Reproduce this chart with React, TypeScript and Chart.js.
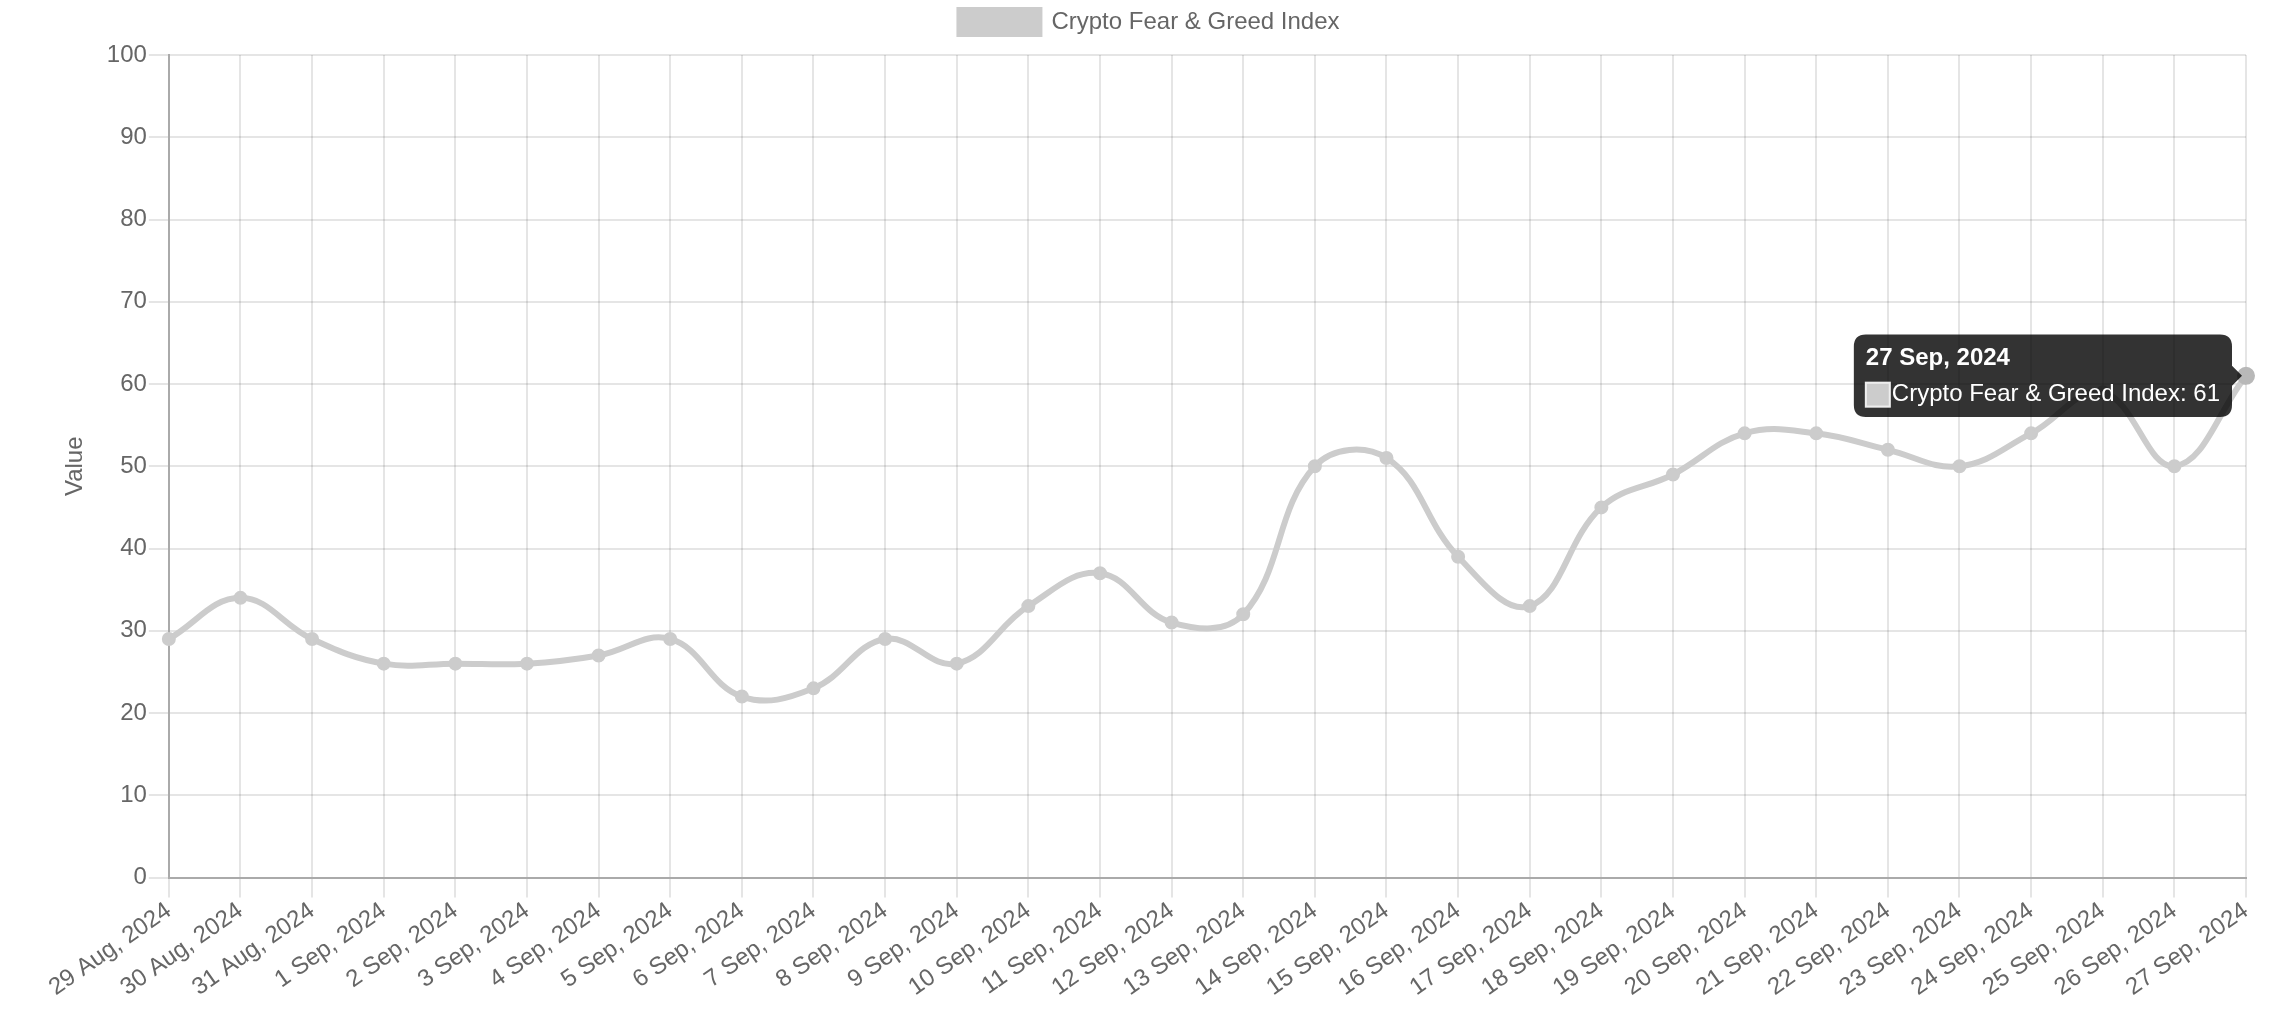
import React, { useEffect, useRef } from "react";
import { Chart, registerables } from "chart.js";

Chart.register(...registerables);

const labels: string[] = [
  "29 Aug, 2024", "30 Aug, 2024", "31 Aug, 2024",
  "1 Sep, 2024", "2 Sep, 2024", "3 Sep, 2024", "4 Sep, 2024", "5 Sep, 2024",
  "6 Sep, 2024", "7 Sep, 2024", "8 Sep, 2024", "9 Sep, 2024", "10 Sep, 2024",
  "11 Sep, 2024", "12 Sep, 2024", "13 Sep, 2024", "14 Sep, 2024", "15 Sep, 2024",
  "16 Sep, 2024", "17 Sep, 2024", "18 Sep, 2024", "19 Sep, 2024", "20 Sep, 2024",
  "21 Sep, 2024", "22 Sep, 2024", "23 Sep, 2024", "24 Sep, 2024", "25 Sep, 2024",
  "26 Sep, 2024", "27 Sep, 2024",
];

const fearGreedValues: number[] = [
  29, 34, 29, 26, 26, 26, 27, 29, 22, 23, 29, 26, 33, 37, 31, 32, 50, 51, 39, 33,
  45, 49, 54, 54, 52, 50, 54, 59, 50, 61,
];

const seriesName = "Crypto Fear & Greed Index";
const yAxisTitle = "Value";
const yMin = 0;
const yMax = 100;
const yStep = 10;

const legendSpacer = {
  id: "legendSpacer",
  beforeUpdate(chart: any) {
    const lg = chart.legend;
    if (lg && !lg.__patched) {
      const orig = lg.fit;
      lg.fit = function (this: any) {
        orig.call(this);
        this.height += 11;
      };
      lg.__patched = true;
    }
  },
};

export default function App() {
  const canvasRef = useRef<HTMLCanvasElement | null>(null);

  useEffect(() => {
    if (!canvasRef.current) return;
    const font = "'Liberation Sans', Arial, Helvetica, sans-serif";
    const chart = new Chart(canvasRef.current, {
      type: "line",
      data: {
        labels,
        datasets: [
          {
            label: seriesName,
            data: fearGreedValues,
            borderColor: "#cccccc",
            backgroundColor: "#cccccc",
            borderWidth: 6,
            pointRadius: 6,
            pointHoverRadius: 8,
            pointBorderWidth: 2,
            pointHoverBorderWidth: 2,
            tension: 0.4,
            fill: false,
            clip: false,
          },
        ],
      },
      plugins: [legendSpacer],
      options: {
        animation: false,
        responsive: true,
        maintainAspectRatio: false,
        color: "#666",
        font: { family: font, size: 24 },
        layout: { padding: { left: 53, right: 48, top: 0, bottom: 22 } },
        plugins: {
          legend: {
            display: true,
            labels: {
              color: "#666",
              font: { family: font, size: 24 },
              boxWidth: 80,
              boxHeight: 24,
              padding: 10,
            },
          },
          tooltip: {
            enabled: true,
            backgroundColor: "rgba(0,0,0,0.8)",
            padding: { top: 9, bottom: 8, left: 12, right: 12 },
            caretSize: 10,
            caretPadding: 4,
            cornerRadius: 12,
            titleMarginBottom: 8,
            titleSpacing: 4,
            bodySpacing: 4,
            boxWidth: 24,
            boxHeight: 24,
            boxPadding: 0,
            titleFont: { family: font, size: 24, weight: "bold" },
            bodyFont: { family: font, size: 24 },
            multiKeyBackground: "#fff",
            callbacks: {
              labelColor: () => ({
                borderColor: "#eeeeee",
                backgroundColor: "#cccccc",
                borderWidth: 2,
              }),
            },
          },
        },
        scales: {
          x: {
            grid: { color: "rgba(0,0,0,0.1)", lineWidth: 2, tickLength: 20 },
            border: { color: "#aaaaaa", width: 2 },
            ticks: {
              color: "#666",
              font: { family: font, size: 24 },
              minRotation: 35,
              maxRotation: 35,
              padding: -1,
              autoSkip: false,
            },
          },
          y: {
            min: yMin,
            max: yMax,
            grid: { color: "rgba(0,0,0,0.1)", lineWidth: 2, tickLength: 20 },
            border: { color: "#aaaaaa", width: 2 },
            ticks: {
              color: "#666",
              font: { family: font, size: 24 },
              stepSize: yStep,
              padding: 2,
            },
            title: {
              display: true,
              text: yAxisTitle,
              color: "#666",
              font: { family: font, size: 24 },
              padding: { top: 8, bottom: 15 },
            },
          },
        },
      },
    });
    const last = fearGreedValues.length - 1;
    chart.setActiveElements([{ datasetIndex: 0, index: last }]);
    chart.tooltip?.setActiveElements([{ datasetIndex: 0, index: last }], { x: 0, y: 0 });
    chart.update();
    return () => chart.destroy();
  }, []);

  return (
    <div style={{ position: "fixed", left: 0, top: 0, width: 2294, height: 1023 }}>
      <canvas ref={canvasRef} />
    </div>
  );
}
